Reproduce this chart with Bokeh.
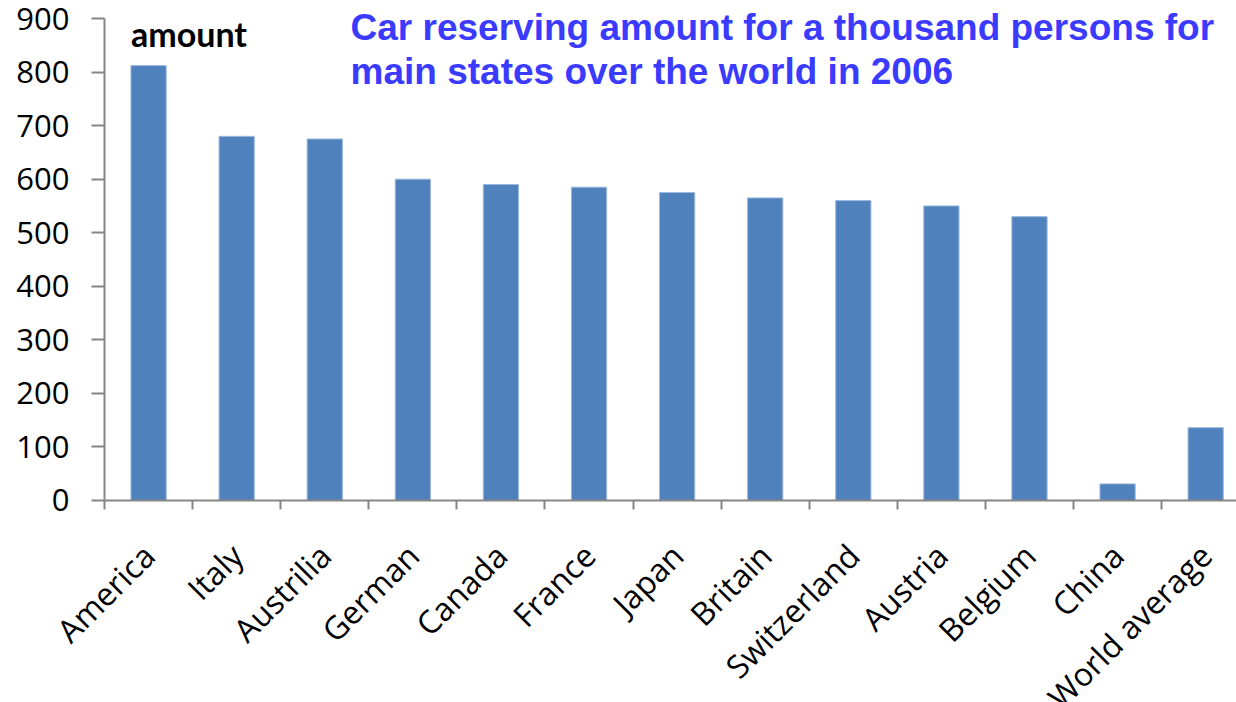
from math import pi
from bokeh.plotting import figure
from bokeh.models import Range1d, FixedTicker, Label
from bokeh.embed import file_html
from bokeh.resources import INLINE

countries = ["America", "Italy", "Austrilia", "German", "Canada", "France", "Japan",
             "Britain", "Switzerland", "Austria", "Belgium", "China", "World average"]
amounts = [812, 680, 675, 600, 590, 585, 575, 565, 560, 550, 530, 31, 136]
y_ticks = [0, 100, 200, 300, 400, 500, 600, 700, 800, 900]

centers = [i + 0.5 for i in range(len(countries))]
bounds = [i for i in range(len(countries) + 1)]

# frame spans the whole canvas; both axes are fixed at value 0 inside it
p = figure(width=1236, height=702, output_backend="svg", toolbar_location=None,
           x_range=Range1d(-1.181, 12.85), y_range=Range1d(-377.2, 933.6),
           min_border_left=0, min_border_right=0, min_border_top=0, min_border_bottom=0)
p.outline_line_color = None
p.xgrid.visible = False
p.ygrid.visible = False
p.background_fill_color = "white"
p.border_fill_color = "white"

p.vbar(x=centers, top=amounts, width=0.4, bottom=0, fill_color="#4F81BD",
       line_color="#9DB8DC", line_width=1)

AX = "#868686"
# y axis
ya = p.yaxis[0]
ya.fixed_location = 0
ya.ticker = FixedTicker(ticks=y_ticks)
ya.bounds = (0, 900)
ya.axis_line_color = AX
ya.axis_line_width = 2
ya.major_tick_line_color = AX
ya.major_tick_line_width = 2
ya.major_tick_out = 13
ya.major_tick_in = 0
ya.minor_tick_line_color = None
ya.major_label_text_font = "Open Sans"
ya.major_label_text_font_size = "31px"
ya.major_label_text_color = "black"
ya.major_label_standoff = 22

# x axis
xa = p.xaxis[0]
xa.fixed_location = 0
xa.bounds = (0, 12.85)
xa.ticker = FixedTicker(ticks=centers, minor_ticks=bounds)
xa.major_label_overrides = {c: n for c, n in zip(centers, countries)}
xa.axis_line_color = AX
xa.axis_line_width = 2
xa.major_tick_line_color = None
xa.minor_tick_line_color = AX
xa.minor_tick_line_width = 2
xa.minor_tick_out = 9
xa.minor_tick_in = 0
xa.major_label_orientation = pi / 4
xa.major_label_text_font = "Open Sans"
xa.major_label_text_font_size = "32px"
xa.major_label_text_color = "black"
xa.major_label_standoff = 40

p.add_layout(Label(x=0.3, y=871.5, text="amount", text_font="Lato", text_font_style="bold",
                   text_font_size="34px", text_color="black", text_baseline="alphabetic"))
p.add_layout(Label(x=2.793, y=883, text="Car reserving amount for a thousand persons for",
                   text_font="Liberation Sans", text_font_style="bold",
                   text_font_size="37px", text_color="#3B3BFF", text_baseline="alphabetic"))
p.add_layout(Label(x=2.793, y=801, text="main states over the world in 2006",
                   text_font="Liberation Sans", text_font_style="bold",
                   text_font_size="37px", text_color="#3B3BFF", text_baseline="alphabetic"))

open("out.html", "w").write(file_html(p, INLINE))
